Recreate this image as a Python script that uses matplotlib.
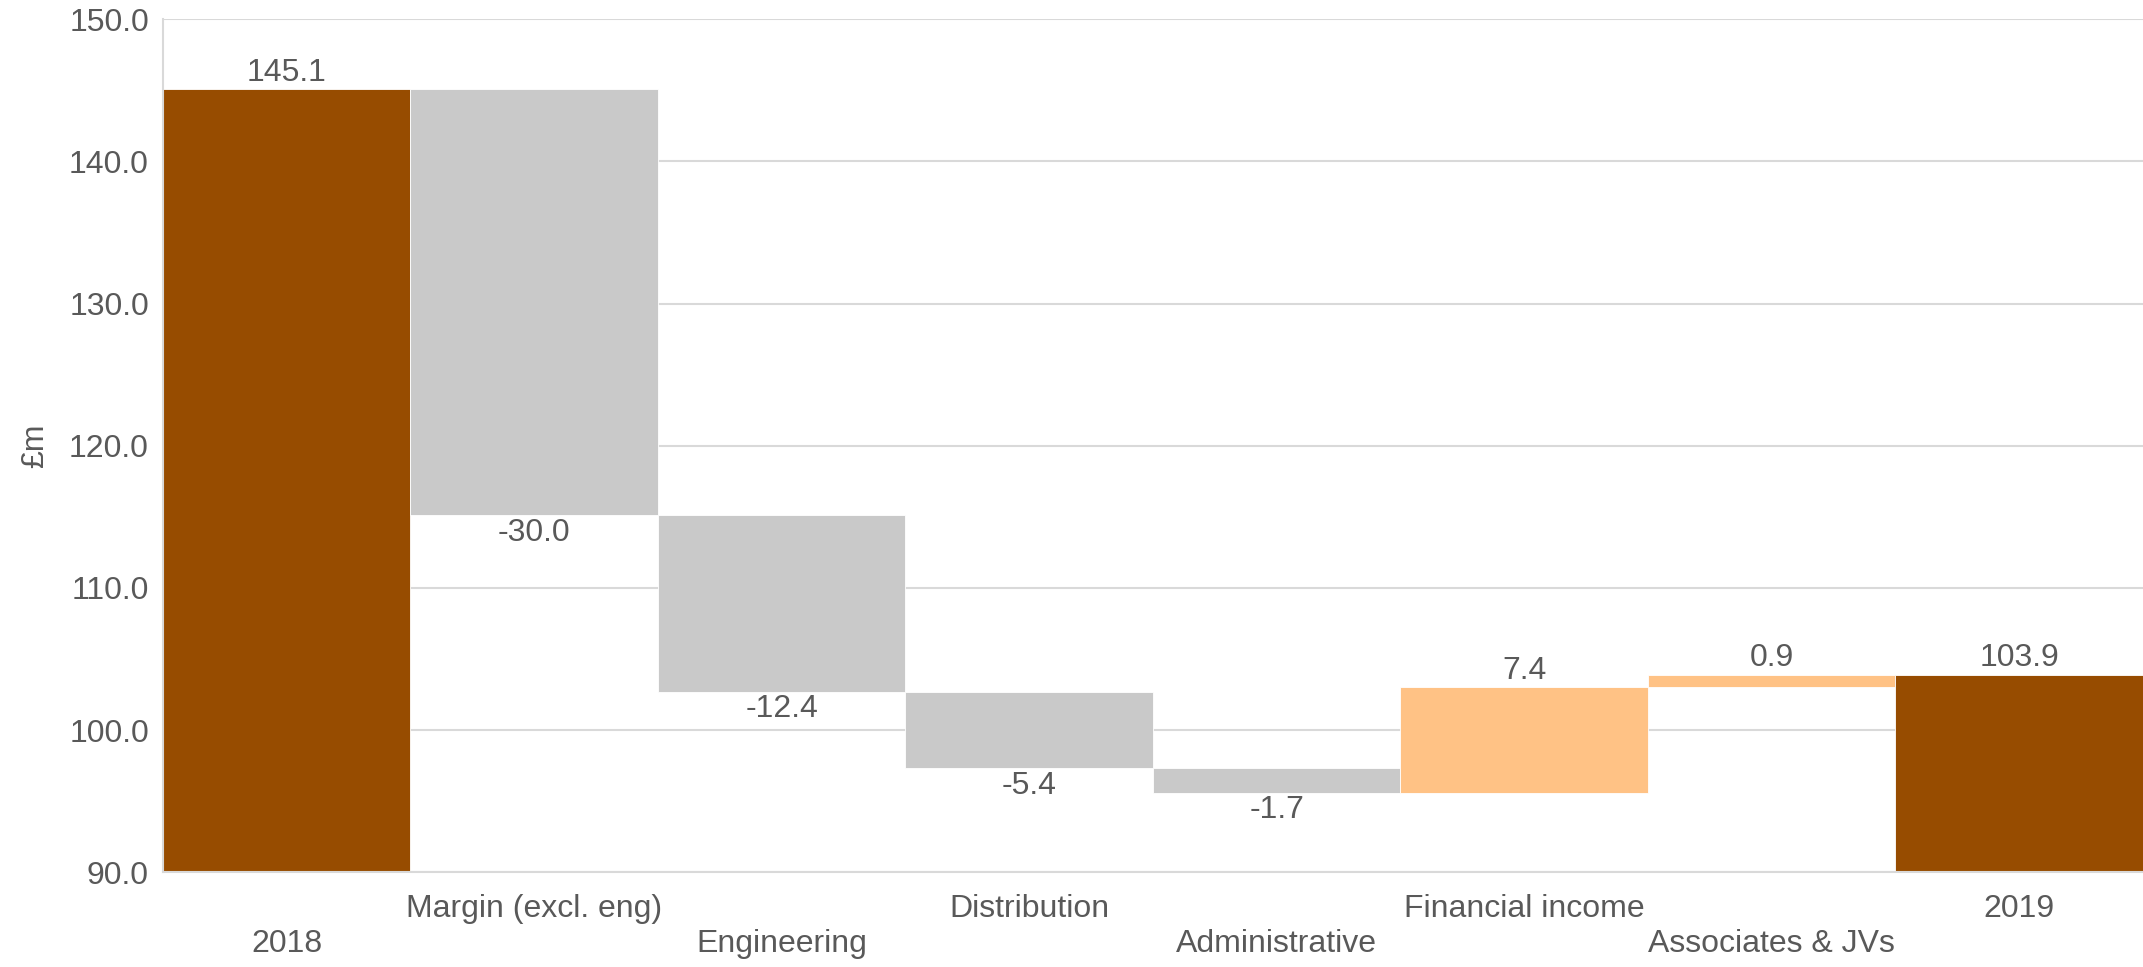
import matplotlib.pyplot as plt
from matplotlib.ticker import FuncFormatter

plt.rcParams["font.family"] = ["Liberation Sans", "DejaVu Sans"]

# waterfall data (£m)
categories = ["2018", "Margin (excl. eng)", "Engineering", "Distribution",
              "Administrative", "Financial income", "Associates & JVs", "2019"]
changes = [145.1, -30.0, -12.4, -5.4, -1.7, 7.4, 0.9, 103.9]
is_total = [True, False, False, False, False, False, False, True]

brown = "#974c00"
grey = "#c9c9c9"
peach = "#ffc285"
text_col = "#595959"
grid_col = "#d9d9d9"
fs = 23

fig = plt.figure(figsize=(21.43, 9.67), dpi=100)
ax = fig.add_axes([0.076, 0.098, 0.924, 0.882])

running = 0.0
for i, (cat, val, tot) in enumerate(zip(categories, changes, is_total)):
    if tot:
        bottom, height, color = 0.0, val, brown
        running = val
        top = val
    else:
        bottom = running if val > 0 else running + val
        height = abs(val)
        color = peach if val > 0 else grey
        running += val
        top = bottom + height
    ax.bar(i, height, bottom=bottom, width=1.0, color=color,
           edgecolor="white", linewidth=0.6, zorder=2)
    if tot or val > 0:
        ax.annotate(f"{val:.1f}", (i, top), xytext=(0, 1),
                    textcoords="offset points", ha="center", va="bottom",
                    fontsize=fs, color=text_col)
    else:
        ax.annotate(f"{val:.1f}", (i, bottom), xytext=(0, -2),
                    textcoords="offset points", ha="center", va="top",
                    fontsize=fs, color=text_col)

ax.set_xlim(-0.5, len(categories) - 0.5)
ax.set_ylim(90, 150)
ax.set_yticks(range(90, 151, 10))
ax.yaxis.set_major_formatter(FuncFormatter(lambda v, p: f"{v:.1f}"))
ax.grid(axis="y", color=grid_col, linewidth=1.5, zorder=0)
ax.set_axisbelow(True)

# staggered category labels: even ones drop to a second row
ax.set_xticks(range(len(categories)))
ax.set_xticklabels([c if i % 2 else "\n" + c for i, c in enumerate(categories)])
for lab in ax.get_xticklabels():
    lab.set_linespacing(1.2)
ax.tick_params(axis="x", length=0, pad=16, labelsize=fs, labelcolor=text_col)
ax.tick_params(axis="y", length=0, pad=10, labelsize=fs, labelcolor=text_col)

for side in ["top", "right"]:
    ax.spines[side].set_visible(False)
ax.spines["left"].set_color(grid_col)
ax.spines["left"].set_linewidth(1.5)
ax.spines["bottom"].set_color(grid_col)
ax.spines["bottom"].set_linewidth(1.5)
ax.spines["bottom"].set_zorder(3)

ax.set_ylabel("£m", fontsize=fs, color=text_col, labelpad=14)

fig.savefig("out.png")
